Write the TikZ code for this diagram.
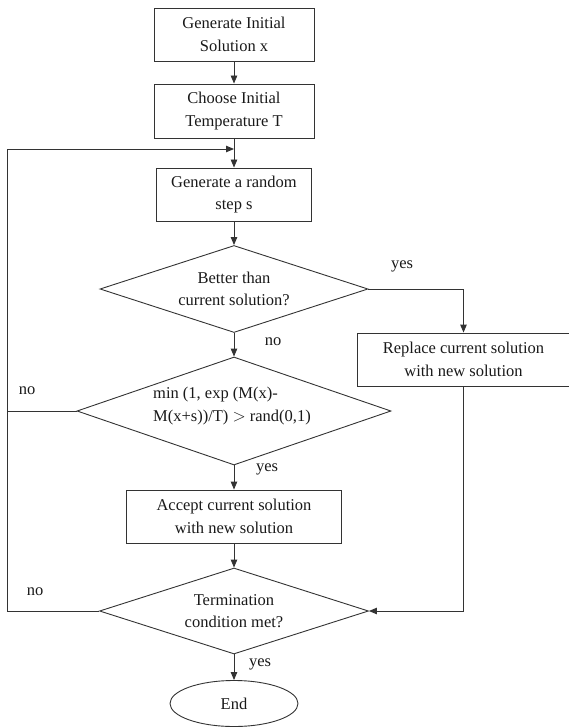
\documentclass[tikz,border=0pt]{standalone}
\usepackage{fontspec}
\setmainfont{Liberation Serif}
\usetikzlibrary{shapes.geometric,arrows.meta}
\begin{document}
\begin{tikzpicture}[x=1pt,y=-1pt,
  every node/.style={font=\fontsize{16.5}{22.5}\selectfont, text=black!90},
  box/.style={draw=black!80, line width=0.9pt, rectangle, inner sep=0pt, align=center},
  dia/.style={draw=black!80, line width=0.9pt, diamond, inner sep=0pt, align=center},
  oval/.style={draw=black!80, line width=0.9pt, ellipse, inner sep=0pt},
  conn/.style={draw=black!80, line width=0.9pt},
  arr/.style={conn, -{Triangle[length=8pt,width=6.5pt]}},
  lbl/.style={inner sep=0pt}]
\useasboundingbox (0,0) rectangle (568,727);

\node[box, minimum width=160pt, minimum height=53pt] (b1) at (234,34.5) {Generate Initial\\Solution x};
\node[box, minimum width=160pt, minimum height=54pt] (b2) at (234,111) {Choose Initial\\Temperature T};
\node[box, minimum width=155pt, minimum height=53pt] (b3) at (234,194.5) {Generate a random\\step s};
\node[dia, aspect=3.08, minimum width=268pt, minimum height=87pt] (d1) at (234,289) {Better than\\current solution?};
\node[box, minimum width=213pt, minimum height=53pt] (rep) at (463.5,359.5) {Replace current solution\\with new solution};
\node[dia, aspect=2.9, minimum width=314pt, minimum height=108pt] (d2) at (234,411) {};
\node[lbl, align=left] (d2t) at (232,406) {min (1, exp (M(x)-\\M(x+s))/T) $>$ rand(0,1)};
\node[box, minimum width=215pt, minimum height=53pt] (b4) at (234,516.5) {Accept current solution\\with new solution};
\node[dia, aspect=3.1, minimum width=269pt, minimum height=86pt] (d3) at (234,611) {Termination\\condition met?};
\node[oval, minimum width=128pt, minimum height=46pt] (end) at (234,703.5) {End};

\node[lbl] (l1) at (402,266) {yes};
\node[lbl] (l2) at (273,342) {no};
\node[lbl] (l3) at (27,391) {no};
\node[lbl] (l4) at (267,469) {yes};
\node[lbl] (l5) at (35,592) {no};
\node[lbl] (l6) at (260,664) {yes};

\coordinate (lp) at (234,149);
\coordinate (cl) at (7,149);

\draw[arr] (b1) -- (b2);
\draw[arr] (b2) -- (b3);
\draw[arr] (b3) -- (d1);
\draw[arr] (d1.south) -- (d2.north);
\draw[arr] (d1.east) -| (rep.north);
\draw[arr] (d2.south) -- (b4.north);
\draw[arr] (b4) -- (d3);
\draw[arr] (rep.south) |- (d3.east);
\draw[arr] (d3.south) -- (end.north);
\draw[arr] (d3.west) -| (cl) -- (lp);
\draw[conn] (d2.west) -- (d2.west -| cl);
\end{tikzpicture}
\end{document}
